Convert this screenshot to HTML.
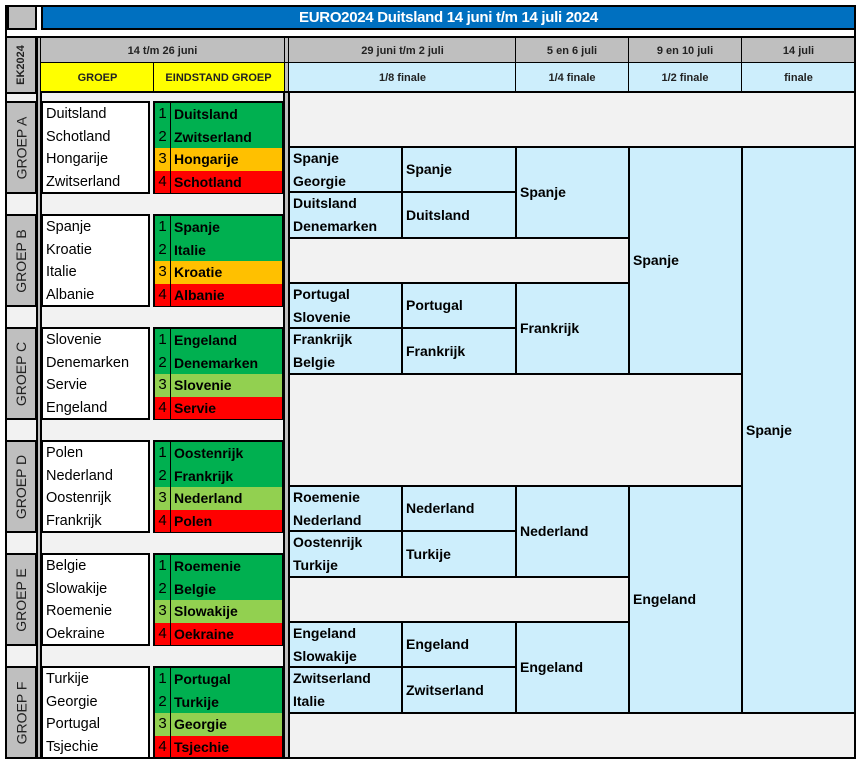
<!DOCTYPE html>
<html><head><meta charset="utf-8"><style>
body{margin:0;width:859px;height:760px;background:#fff;font-family:"Liberation Sans",Arial,sans-serif;overflow:hidden;position:relative}
.a{position:absolute;box-sizing:border-box}
.g{background:#bfbfbf}
.lb{background:#cdeefc}
.b{border:2px solid #000}
.hd{font-size:11px;font-weight:bold;display:flex;align-items:center;justify-content:center;color:#222}
.row{height:22.6px;line-height:22.6px;font-size:14.5px;padding-left:3px;white-space:nowrap}
.st{display:flex;height:22.6px;line-height:22.6px;font-size:14px;font-weight:bold}
.st span:first-child{width:15px;text-align:center;font-weight:normal;border-right:1px solid #000;font-size:15px}
.st span:last-child{padding-left:3px}
.G{background:#00b050}.O{background:#ffc000}.R{background:#ff0000}.L{background:#92d050}
.vl{display:flex;align-items:center;justify-content:center}
.vl span{transform:rotate(-90deg);white-space:nowrap;font-size:14px;color:#222}
.k{font-size:14px;font-weight:bold;padding-left:3px;display:flex;flex-direction:column;justify-content:center;line-height:22.6px}
.vln{position:absolute;width:1px;background:#000}
</style></head><body>
<div class="a" style="left:5px;top:5px;width:851px;height:754px;border:2px solid #000;background:#f2f2f2"></div>
<div class="a" style="left:7px;top:7px;width:847px;height:31px;background:#fff"></div>
<div class="a g b" style="left:7px;top:5px;width:30px;height:25px"></div>
<div class="a b" style="left:41px;top:5px;width:815px;height:25px;background:#0070c0;color:#fff;font-weight:bold;font-size:15px;display:flex;align-items:center;justify-content:center;letter-spacing:-0.3px">EURO2024 Duitsland 14 juni t/m 14 juli 2024</div>
<div class="a" style="left:5px;top:36px;width:851px;height:2px;background:#000"></div>

<div class="a g b vl" style="left:5px;top:36px;width:32px;height:58px"><span style="font-size:11px;font-weight:bold">EK2024</span></div>
<div class="a g" style="left:36px;top:38px;width:6px;height:720px;border-left:2px solid #000;border-right:2px solid #000"></div>
<div class="a g" style="left:283px;top:38px;width:7px;height:720px;border-left:2px solid #000;border-right:2px solid #000"></div>

<div class="a g hd" style="left:41px;top:38px;width:243px;height:25px">14 t/m 26 juni</div>
<div class="a hd" style="left:41px;top:62px;width:113px;height:31px;background:#ffff00">GROEP</div>
<div class="a hd" style="left:153px;top:62px;width:131px;height:31px;background:#ffff00">EINDSTAND GROEP</div>
<div class="a g hd" style="left:289px;top:38px;width:227px;height:25px">29 juni t/m 2 juli</div>
<div class="a g hd" style="left:515px;top:38px;width:114px;height:25px">5 en 6 juli</div>
<div class="a g hd" style="left:628px;top:38px;width:114px;height:25px">9 en 10 juli</div>
<div class="a g hd" style="left:741px;top:38px;width:115px;height:25px">14 juli</div>
<div class="a lb hd" style="left:289px;top:62px;width:227px;height:31px">1/8 finale</div>
<div class="a lb hd" style="left:515px;top:62px;width:114px;height:31px">1/4 finale</div>
<div class="a lb hd" style="left:628px;top:62px;width:114px;height:31px">1/2 finale</div>
<div class="a lb hd" style="left:741px;top:62px;width:115px;height:31px">finale</div>
<!-- header lines -->
<div class="a" style="left:41px;top:62px;width:815px;height:1px;background:#000"></div>
<div class="a" style="left:41px;top:91px;width:815px;height:2px;background:#000"></div>
<div class="vln" style="left:153px;top:62px;height:30px"></div>
<div class="vln" style="left:515px;top:38px;height:54px"></div>
<div class="vln" style="left:628px;top:38px;height:54px"></div>
<div class="vln" style="left:741px;top:38px;height:54px"></div>

<div class="a g b vl" style="left:5px;top:101px;width:32px;height:93px"><span>GROEP A</span></div>
<div class="a g b vl" style="left:5px;top:214px;width:32px;height:93px"><span>GROEP B</span></div>
<div class="a g b vl" style="left:5px;top:327px;width:32px;height:93px"><span>GROEP C</span></div>
<div class="a g b vl" style="left:5px;top:440px;width:32px;height:93px"><span>GROEP D</span></div>
<div class="a g b vl" style="left:5px;top:553px;width:32px;height:93px"><span>GROEP E</span></div>
<div class="a g b vl" style="left:5px;top:666px;width:32px;height:93px"><span>GROEP F</span></div>

<div class="a b" style="left:41px;top:101px;width:109px;height:93px;background:#fff"><div class="row">Duitsland</div><div class="row">Schotland</div><div class="row">Hongarije</div><div class="row">Zwitserland</div></div>
<div class="a b" style="left:41px;top:214px;width:109px;height:93px;background:#fff"><div class="row">Spanje</div><div class="row">Kroatie</div><div class="row">Italie</div><div class="row">Albanie</div></div>
<div class="a b" style="left:41px;top:327px;width:109px;height:93px;background:#fff"><div class="row">Slovenie</div><div class="row">Denemarken</div><div class="row">Servie</div><div class="row">Engeland</div></div>
<div class="a b" style="left:41px;top:440px;width:109px;height:93px;background:#fff"><div class="row">Polen</div><div class="row">Nederland</div><div class="row">Oostenrijk</div><div class="row">Frankrijk</div></div>
<div class="a b" style="left:41px;top:553px;width:109px;height:93px;background:#fff"><div class="row">Belgie</div><div class="row">Slowakije</div><div class="row">Roemenie</div><div class="row">Oekraine</div></div>
<div class="a b" style="left:41px;top:666px;width:109px;height:93px;background:#fff"><div class="row">Turkije</div><div class="row">Georgie</div><div class="row">Portugal</div><div class="row">Tsjechie</div></div>

<div class="a b" style="left:153px;top:101px;width:131px;height:93px"><div class="st G"><span>1</span><span>Duitsland</span></div><div class="st G"><span>2</span><span>Zwitserland</span></div><div class="st O"><span>3</span><span>Hongarije</span></div><div class="st R"><span>4</span><span>Schotland</span></div></div>
<div class="a b" style="left:153px;top:214px;width:131px;height:93px"><div class="st G"><span>1</span><span>Spanje</span></div><div class="st G"><span>2</span><span>Italie</span></div><div class="st O"><span>3</span><span>Kroatie</span></div><div class="st R"><span>4</span><span>Albanie</span></div></div>
<div class="a b" style="left:153px;top:327px;width:131px;height:93px"><div class="st G"><span>1</span><span>Engeland</span></div><div class="st G"><span>2</span><span>Denemarken</span></div><div class="st L"><span>3</span><span>Slovenie</span></div><div class="st R"><span>4</span><span>Servie</span></div></div>
<div class="a b" style="left:153px;top:440px;width:131px;height:93px"><div class="st G"><span>1</span><span>Oostenrijk</span></div><div class="st G"><span>2</span><span>Frankrijk</span></div><div class="st L"><span>3</span><span>Nederland</span></div><div class="st R"><span>4</span><span>Polen</span></div></div>
<div class="a b" style="left:153px;top:553px;width:131px;height:93px"><div class="st G"><span>1</span><span>Roemenie</span></div><div class="st G"><span>2</span><span>Belgie</span></div><div class="st L"><span>3</span><span>Slowakije</span></div><div class="st R"><span>4</span><span>Oekraine</span></div></div>
<div class="a b" style="left:153px;top:666px;width:131px;height:93px"><div class="st G"><span>1</span><span>Portugal</span></div><div class="st G"><span>2</span><span>Turkije</span></div><div class="st L"><span>3</span><span>Georgie</span></div><div class="st R"><span>4</span><span>Tsjechie</span></div></div>

<div class="a b lb k" style="left:288px;top:146px;width:115px;height:47px"><div>Spanje</div><div>Georgie</div></div>
<div class="a b lb k" style="left:401px;top:146px;width:116px;height:47px">Spanje</div>
<div class="a b lb k" style="left:288px;top:191px;width:115px;height:48px"><div>Duitsland</div><div>Denemarken</div></div>
<div class="a b lb k" style="left:401px;top:191px;width:116px;height:48px">Duitsland</div>
<div class="a b lb k" style="left:288px;top:282px;width:115px;height:47px"><div>Portugal</div><div>Slovenie</div></div>
<div class="a b lb k" style="left:401px;top:282px;width:116px;height:47px">Portugal</div>
<div class="a b lb k" style="left:288px;top:327px;width:115px;height:48px"><div>Frankrijk</div><div>Belgie</div></div>
<div class="a b lb k" style="left:401px;top:327px;width:116px;height:48px">Frankrijk</div>
<div class="a b lb k" style="left:288px;top:485px;width:115px;height:47px"><div>Roemenie</div><div>Nederland</div></div>
<div class="a b lb k" style="left:401px;top:485px;width:116px;height:47px">Nederland</div>
<div class="a b lb k" style="left:288px;top:530px;width:115px;height:48px"><div>Oostenrijk</div><div>Turkije</div></div>
<div class="a b lb k" style="left:401px;top:530px;width:116px;height:48px">Turkije</div>
<div class="a b lb k" style="left:288px;top:621px;width:115px;height:47px"><div>Engeland</div><div>Slowakije</div></div>
<div class="a b lb k" style="left:401px;top:621px;width:116px;height:47px">Engeland</div>
<div class="a b lb k" style="left:288px;top:666px;width:115px;height:48px"><div>Zwitserland</div><div>Italie</div></div>
<div class="a b lb k" style="left:401px;top:666px;width:116px;height:48px">Zwitserland</div>

<div class="a b lb k" style="left:515px;top:146px;width:115px;height:93px">Spanje</div>
<div class="a b lb k" style="left:515px;top:282px;width:115px;height:93px">Frankrijk</div>
<div class="a b lb k" style="left:515px;top:485px;width:115px;height:93px">Nederland</div>
<div class="a b lb k" style="left:515px;top:621px;width:115px;height:93px">Engeland</div>

<div class="a b lb k" style="left:628px;top:146px;width:115px;height:229px">Spanje</div>
<div class="a b lb k" style="left:628px;top:485px;width:115px;height:229px">Engeland</div>

<div class="a b lb k" style="left:741px;top:146px;width:115px;height:568px">Spanje</div>

<div class="a" style="left:5px;top:5px;width:851px;height:754px;border:2px solid #000;pointer-events:none"></div>
</body></html>
